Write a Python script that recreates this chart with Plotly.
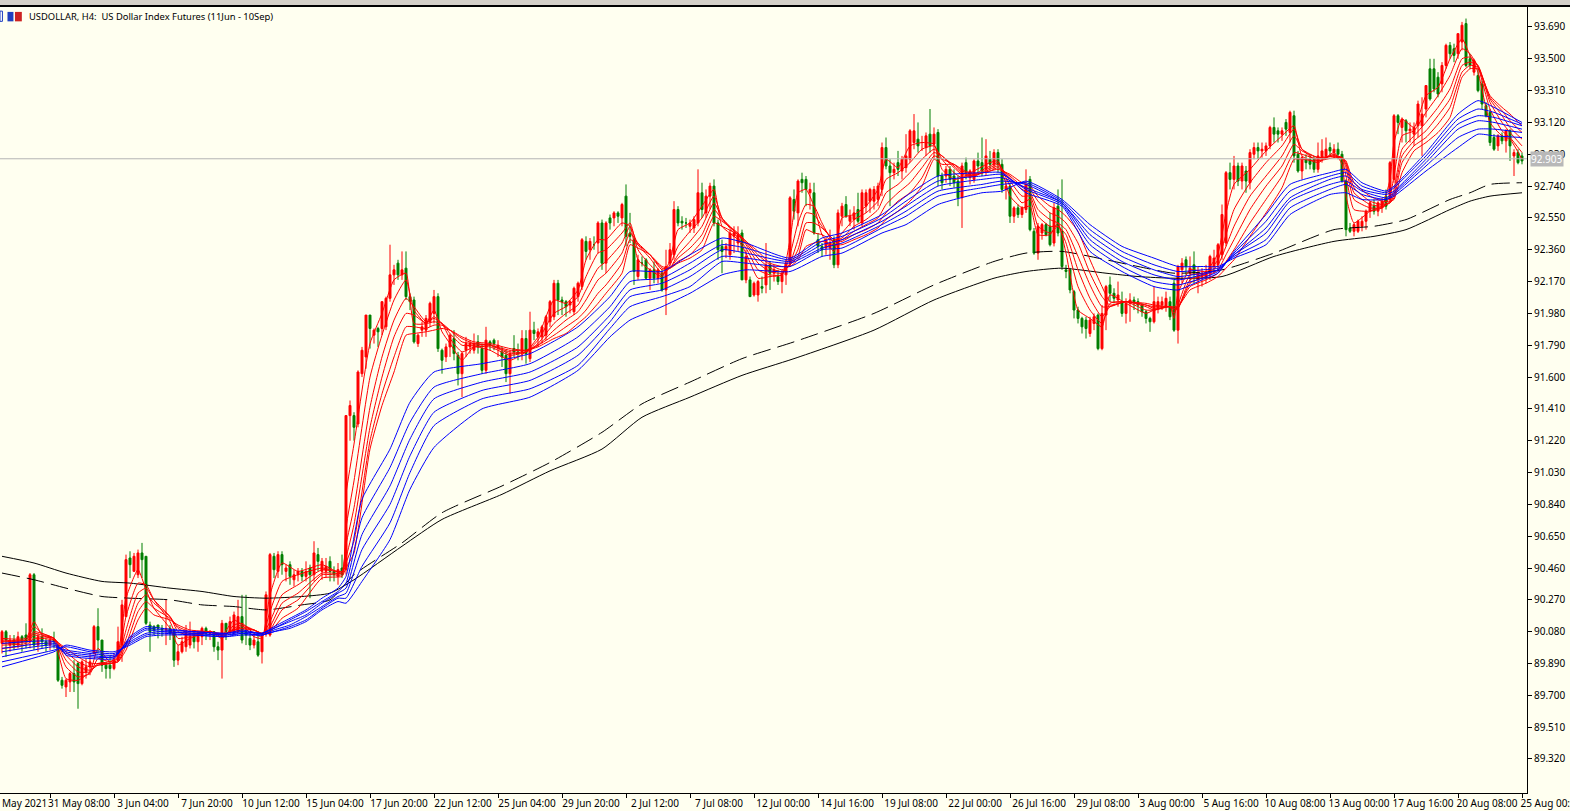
import plotly.graph_objects as go

title_text = "USDOLLAR, H4:  US Dollar Index Futures (11Jun - 10Sep)"
price_ticks = [93.69,93.50,93.31,93.12,92.93,92.74,92.55,92.36,92.17,91.98,91.79,91.60,91.41,91.22,91.03,90.84,90.65,90.46,90.27,90.08,89.89,89.70,89.51,89.32]
date_labels = ["31 May 08:00","3 Jun 04:00","7 Jun 20:00","10 Jun 12:00","15 Jun 04:00","17 Jun 20:00","22 Jun 12:00","25 Jun 04:00","29 Jun 20:00","2 Jul 12:00","7 Jul 08:00","12 Jul 00:00","14 Jul 16:00","19 Jul 08:00","22 Jul 00:00","26 Jul 16:00","29 Jul 08:00","3 Aug 00:00","5 Aug 16:00","10 Aug 08:00","13 Aug 00:00","17 Aug 16:00","20 Aug 08:00","25 Aug 00:00"]
date_bars = [12,28,44,60,76,92,108,124,140,156,172,188,204,220,236,252,268,284,300,316,332,348,364,380]
last_price = 92.903

opens = [90.01,90.08,90.00,90.03,90.00,90.05,90.06,90.02,90.42,90.00,
90.05,90.02,90.00,90.03,90.00,89.79,89.75,89.78,89.83,89.89,
89.77,89.84,89.87,89.95,90.11,90.03,89.88,89.88,89.86,89.91,
90.00,90.17,90.52,90.44,90.42,90.55,90.53,90.12,90.11,90.12,
90.10,90.09,90.10,90.09,89.91,89.96,89.99,90.00,90.05,90.02,
90.05,90.10,90.07,90.08,89.99,89.97,90.13,90.08,90.08,90.08,
90.17,90.08,90.04,90.00,90.02,89.96,90.07,90.06,90.53,90.44,
90.54,90.44,90.48,90.39,90.42,90.44,90.41,90.46,90.42,90.54,
90.44,90.44,90.50,90.44,90.41,90.46,90.45,91.37,91.37,91.32,
91.62,91.72,91.97,91.85,91.89,91.89,91.90,92.07,92.21,92.28,
92.21,92.25,92.08,92.06,91.80,91.88,91.88,91.93,91.98,92.08,
91.76,91.72,91.78,91.83,91.73,91.62,91.76,91.78,91.76,91.81,
91.77,91.64,91.81,91.82,91.78,91.75,91.73,91.62,91.77,91.75,
91.75,91.83,91.71,91.88,91.84,91.84,91.85,91.93,91.96,92.16,
92.06,92.05,92.03,91.99,92.08,92.14,92.41,92.36,92.39,92.40,
92.52,92.28,92.55,92.55,92.58,92.55,92.68,92.46,92.42,92.20,
92.28,92.30,92.19,92.24,92.19,92.22,92.12,92.28,92.33,92.60,
92.53,92.52,92.50,92.49,92.52,92.70,92.58,92.68,92.74,92.52,
92.38,92.36,92.33,92.44,92.40,92.46,92.18,92.18,92.09,92.09,
92.14,92.15,92.27,92.22,92.20,92.17,92.21,92.28,92.66,92.58,
92.78,92.78,92.70,92.70,92.42,92.38,92.37,92.37,92.42,92.27,
92.56,92.63,92.53,92.54,92.60,92.52,92.62,92.65,92.65,92.66,
92.72,92.97,92.86,92.82,92.88,92.83,92.85,92.90,93.00,93.02,
93.00,92.97,93.05,92.99,93.06,92.80,92.80,92.84,92.80,92.77,
92.67,92.88,92.79,92.78,92.89,92.88,92.84,92.90,92.87,92.94,
92.87,92.72,92.74,92.56,92.61,92.57,92.60,92.78,92.47,92.34,
92.46,92.51,92.50,92.40,92.62,92.47,92.24,92.24,92.11,92.00,
91.95,91.94,91.86,91.92,91.97,91.77,91.97,92.15,92.10,92.06,
92.05,91.98,92.04,92.06,92.05,92.03,91.99,91.95,91.93,92.01,
92.03,92.02,92.05,92.16,91.88,92.24,92.30,92.22,92.27,92.18,
92.20,92.20,92.22,92.26,92.27,92.33,92.40,92.82,92.78,92.86,
92.77,92.83,92.76,92.93,92.97,92.95,92.95,92.98,93.09,93.07,
93.05,93.12,93.06,93.16,92.93,92.83,92.90,92.90,92.90,92.84,
92.91,92.92,92.97,92.94,92.96,92.93,92.77,92.49,92.47,92.47,
92.50,92.53,92.59,92.62,92.59,92.61,92.68,92.66,92.78,93.16,
93.09,93.13,93.07,93.05,93.10,93.10,93.20,93.44,93.44,93.39,
93.35,93.46,93.58,93.56,93.53,93.60,93.71,93.50,93.42,93.40,
93.35,93.22,93.18,93.03,92.98,93.04,93.01,93.07,92.92,92.94,92.92]

highs = [90.09,90.09,90.06,90.06,90.08,90.06,90.13,90.43,90.43,90.07,
90.10,90.04,90.05,90.08,90.00,89.81,89.80,89.84,89.91,89.90,
89.91,89.92,89.95,90.12,90.22,90.03,89.90,89.94,89.95,90.11,
90.27,90.54,90.56,90.55,90.57,90.61,90.53,90.14,90.12,90.12,
90.12,90.27,90.12,90.10,90.00,90.05,90.12,90.14,90.09,90.08,
90.11,90.11,90.09,90.08,90.02,90.15,90.13,90.17,90.20,90.27,
90.30,90.30,90.08,90.06,90.08,90.07,90.32,90.55,90.55,90.56,
90.56,90.48,90.50,90.45,90.46,90.46,90.50,90.48,90.62,90.58,
90.52,90.52,90.53,90.47,90.49,90.54,91.37,91.46,91.39,91.64,
91.78,91.97,91.97,91.89,91.90,92.05,92.08,92.39,92.27,92.30,
92.35,92.35,92.10,92.08,91.86,91.93,91.97,92.05,92.12,92.10,
91.77,91.80,91.86,91.88,91.75,91.75,91.84,91.82,91.86,91.85,
91.80,91.90,91.82,91.83,91.82,91.78,91.76,91.76,91.85,91.80,
91.88,91.88,91.99,91.93,91.89,91.91,91.97,92.06,92.18,92.18,
92.08,92.06,92.06,92.14,92.17,92.43,92.44,92.43,92.44,92.53,
92.54,92.53,92.57,92.59,92.59,92.64,92.75,92.58,92.44,92.33,
92.32,92.31,92.25,92.29,92.25,92.24,92.36,92.40,92.65,92.62,
92.56,92.55,92.54,92.56,92.84,92.76,92.72,92.76,92.78,92.54,
92.42,92.40,92.48,92.50,92.50,92.48,92.36,92.20,92.17,92.18,
92.20,92.40,92.29,92.27,92.24,92.24,92.30,92.68,92.72,92.78,
92.82,92.80,92.76,92.76,92.46,92.40,92.43,92.48,92.44,92.60,
92.64,92.68,92.60,92.62,92.70,92.72,92.72,92.73,92.74,92.76,
93.00,93.03,92.90,92.88,92.95,92.92,93.05,93.08,93.17,93.12,
93.04,93.06,93.20,93.09,93.08,92.82,92.86,92.86,92.84,92.80,
92.88,92.91,92.84,92.90,92.94,93.03,93.02,92.95,92.96,92.96,
92.90,92.78,92.76,92.62,92.63,92.62,92.84,92.80,92.49,92.52,
92.52,92.52,92.58,92.64,92.72,92.78,92.27,92.25,92.12,92.02,
91.96,91.96,91.96,91.98,91.98,92.03,92.15,92.20,92.13,92.17,
92.11,92.07,92.10,92.08,92.07,92.04,92.00,91.96,92.14,92.08,
92.08,92.11,92.08,92.18,92.27,92.31,92.32,92.32,92.35,92.26,
92.25,92.27,92.33,92.36,92.40,92.63,92.83,92.88,92.92,92.88,
92.88,92.86,92.96,93.00,93.00,93.00,93.00,93.10,93.15,93.09,
93.09,93.14,93.19,93.19,92.95,92.92,92.93,92.93,92.92,93.00,
93.02,93.03,93.00,92.99,93.00,92.95,92.78,92.52,92.52,92.54,
92.56,92.60,92.65,92.66,92.65,92.67,92.72,92.89,93.17,93.17,
93.15,93.14,93.12,93.12,93.25,93.27,93.34,93.50,93.50,93.42,
93.48,93.59,93.60,93.59,93.65,93.72,93.74,93.53,93.50,93.44,
93.37,93.24,93.20,93.05,93.05,93.06,93.08,93.08,92.96,92.96,92.94]

lows = [89.95,89.93,89.96,89.97,89.98,89.96,89.98,89.98,89.97,89.96,
89.98,89.96,89.97,89.98,89.78,89.74,89.69,89.72,89.72,89.62,
89.76,89.80,89.82,89.95,89.95,89.84,89.80,89.80,89.85,89.90,
89.90,90.17,90.40,90.44,90.40,90.40,90.12,89.96,90.06,90.04,
90.05,90.00,90.03,89.87,89.88,89.95,89.96,89.98,89.98,89.96,
90.00,90.03,90.03,89.96,89.91,89.80,90.03,90.06,90.06,90.08,
90.01,90.00,89.97,89.98,89.93,89.89,90.05,90.05,90.40,90.40,
90.42,90.38,90.36,90.35,90.38,90.38,90.38,90.28,90.38,90.44,
90.39,90.40,90.38,90.38,90.36,90.40,90.42,91.22,91.22,91.30,
91.60,91.65,91.77,91.80,91.78,91.85,91.88,92.05,92.15,92.18,
92.18,92.06,92.00,91.80,91.78,91.84,91.84,91.90,91.92,91.75,
91.62,91.69,91.72,91.70,91.55,91.48,91.72,91.74,91.74,91.74,
91.62,91.62,91.76,91.76,91.72,91.66,91.57,91.50,91.72,91.70,
91.70,91.68,91.69,91.82,91.78,91.80,91.82,91.90,91.94,91.97,
91.97,91.96,91.98,91.97,92.05,92.12,92.30,92.30,92.36,92.34,
92.24,92.22,92.48,92.50,92.52,92.50,92.38,92.40,92.15,92.18,
92.26,92.18,92.12,92.16,92.16,92.11,91.97,92.26,92.30,92.50,
92.48,92.49,92.46,92.46,92.50,92.55,92.55,92.60,92.50,92.30,
92.22,92.31,92.30,92.34,92.35,92.18,92.16,92.08,92.08,92.05,
92.10,92.10,92.12,92.17,92.15,92.10,92.15,92.26,92.54,92.50,
92.70,92.62,92.60,92.45,92.34,92.32,92.33,92.30,92.25,92.25,
92.50,92.55,92.50,92.48,92.52,92.50,92.58,92.58,92.60,92.62,
92.68,92.84,92.62,92.78,92.80,92.78,92.82,92.88,92.96,92.94,
92.95,92.92,92.94,92.90,92.74,92.72,92.76,92.74,92.73,92.62,
92.49,92.78,92.75,92.76,92.82,92.80,92.80,92.84,92.84,92.82,
92.70,92.66,92.52,92.52,92.55,92.55,92.58,92.47,92.33,92.30,
92.42,92.44,92.38,92.38,92.44,92.24,92.19,92.10,91.95,91.92,
91.86,91.83,91.84,91.88,91.76,91.76,91.88,92.05,92.04,92.02,
91.96,91.92,91.93,92.00,91.98,91.96,91.92,91.87,91.92,91.98,
92.00,91.99,91.94,91.87,91.80,92.16,92.21,92.16,92.16,92.10,
92.14,92.16,92.18,92.22,92.24,92.30,92.38,92.72,92.72,92.74,
92.72,92.70,92.72,92.90,92.90,92.91,92.92,92.96,93.00,93.00,
93.01,93.04,93.00,92.88,92.82,92.78,92.84,92.84,92.82,92.82,
92.88,92.90,92.92,92.91,92.90,92.76,92.44,92.46,92.44,92.46,
92.47,92.48,92.55,92.57,92.56,92.58,92.60,92.64,92.76,93.05,
93.00,93.00,93.00,92.98,93.03,92.92,93.15,93.25,93.30,93.27,
93.30,93.44,93.50,93.48,93.50,93.55,93.45,93.44,93.40,93.30,
93.20,93.15,92.98,92.95,92.95,92.99,92.94,92.89,92.80,92.87,92.87]

closes = [90.08,90.03,90.03,90.00,90.05,90.02,90.02,90.42,90.00,90.05,
90.02,90.00,90.03,90.02,89.79,89.76,89.79,89.83,89.78,89.77,
89.90,89.87,89.90,90.11,90.03,89.88,89.86,89.86,89.91,90.02,
90.24,90.51,90.48,90.53,90.55,90.51,90.13,90.08,90.09,90.10,
90.09,90.10,90.07,89.91,89.96,90.02,90.07,90.05,90.02,90.07,
90.10,90.07,90.08,89.99,89.97,90.13,90.08,90.14,90.18,90.17,
90.03,90.06,90.00,90.03,89.94,90.05,90.30,90.54,90.45,90.54,
90.48,90.46,90.41,90.42,90.44,90.41,90.44,90.42,90.55,90.50,
90.50,90.47,90.44,90.42,90.45,90.42,91.37,91.43,91.30,91.63,
91.76,91.97,91.89,91.88,91.87,92.05,92.07,92.21,92.24,92.21,
92.24,92.08,92.05,91.81,91.85,91.90,91.95,92.04,92.08,91.77,
91.70,91.78,91.85,91.74,91.62,91.74,91.80,91.80,91.80,91.78,
91.64,91.82,91.79,91.80,91.79,91.72,91.62,91.74,91.75,91.74,
91.83,91.74,91.88,91.86,91.87,91.90,91.96,92.05,92.16,92.06,
92.05,92.02,92.05,92.13,92.16,92.42,92.35,92.41,92.39,92.52,
92.28,92.52,92.52,92.58,92.56,92.63,92.44,92.44,92.23,92.30,
92.28,92.19,92.24,92.19,92.24,92.12,92.26,92.36,92.60,92.52,
92.52,92.52,92.52,92.54,92.70,92.60,92.68,92.74,92.52,92.36,
92.35,92.38,92.46,92.46,92.45,92.18,92.32,92.08,92.16,92.17,
92.13,92.27,92.22,92.24,92.17,92.22,92.28,92.67,92.59,92.77,
92.76,92.72,92.72,92.46,92.38,92.36,92.42,92.40,92.27,92.58,
92.62,92.56,92.56,92.58,92.53,92.70,92.70,92.72,92.72,92.74,
92.97,92.86,92.82,92.84,92.84,92.90,92.92,93.07,93.07,92.98,
93.00,93.04,92.98,93.05,92.80,92.76,92.84,92.78,92.76,92.67,
92.86,92.82,92.83,92.89,92.86,92.83,92.92,92.87,92.94,92.87,
92.72,92.74,92.56,92.61,92.57,92.61,92.75,92.48,92.34,92.50,
92.51,92.45,92.39,92.61,92.46,92.26,92.23,92.12,92.00,91.95,
91.90,91.89,91.94,91.96,91.77,91.98,92.14,92.10,92.07,92.09,
91.98,92.04,92.06,92.05,92.03,91.99,91.95,91.93,92.05,92.05,
92.05,92.07,91.96,91.88,92.26,92.28,92.26,92.25,92.22,92.22,
92.22,92.23,92.32,92.31,92.39,92.57,92.82,92.78,92.86,92.77,
92.86,92.77,92.94,92.97,92.95,92.96,92.98,93.09,93.05,93.05,
93.07,93.08,93.18,92.92,92.83,92.91,92.88,92.87,92.84,92.92,
92.95,92.96,92.95,92.96,92.93,92.77,92.48,92.47,92.51,92.53,
92.53,92.59,92.64,92.59,92.64,92.65,92.62,92.88,93.16,93.12,
93.14,93.07,93.08,93.09,93.23,93.17,93.34,93.26,93.32,93.29,
93.46,93.58,93.53,93.52,93.65,93.70,93.46,93.46,93.49,93.31,
93.23,93.16,93.00,92.96,93.04,93.01,93.07,92.98,92.94,92.88,92.89]

red_bars = [0,6,8,10,13,16,19,22,24,27,29,31,34,36,38,42,44,47,52,55,58,60,63,65,67,70,74,80,85,86,88,92,95,98,101,103,106,108,110,112,115,118,122,127,131,134,138,141,144,146,149,151,155,157,159,162,165,167,169,172,175,178,180,184,186,189,192,195,197,199,201,203,205,208,210,213,216,219,221,224,227,230,233,235,238,240,243,247,249,252,255,257,259,262,264,266,269,272,275,277,281,286,288,292,293,294,297,301,304,306,308,312,316,320,323,325,329,333,335,336,338,342,345,347,348,350,353,356,359,362,365,367,369,372,375,377,380]
red1 = [90.04,90.04,90.14,90.06,90.03,89.80,89.79,89.84,89.98,89.90,89.95,90.28,90.45,90.33,90.22,90.10,90.00,90.04,90.08,90.06,90.15,90.12,90.05,90.04,90.30,90.49,90.44,90.48,90.43,90.90,91.20,91.80,91.98,92.18,92.22,91.92,91.92,92.00,91.87,91.80,91.70,91.78,91.76,91.70,91.75,91.84,92.06,92.04,92.12,92.30,92.42,92.42,92.52,92.50,92.30,92.24,92.20,92.30,92.48,92.52,92.62,92.72,92.50,92.42,92.34,92.19,92.20,92.21,92.42,92.70,92.72,92.62,92.45,92.35,92.55,92.57,92.62,92.72,92.90,92.85,92.98,93.00,92.99,92.84,92.78,92.79,92.83,92.88,92.89,92.68,92.61,92.62,92.45,92.45,92.52,92.34,92.00,91.95,91.90,92.09,92.04,91.98,92.00,92.02,91.95,92.10,92.24,92.23,92.34,92.58,92.75,92.84,92.95,93.04,93.10,92.92,92.88,92.94,92.87,92.68,92.52,92.59,92.62,92.78,93.00,93.14,93.09,93.28,93.33,93.50,93.62,93.52,93.42,93.12,93.04,93.02,92.90]
red2 = [90.03,90.03,90.11,90.07,90.04,89.87,89.81,89.83,89.92,89.90,89.93,90.17,90.37,90.36,90.27,90.14,90.04,90.05,90.08,90.04,90.12,90.13,90.07,90.05,90.20,90.38,90.42,90.46,90.44,90.70,90.98,91.60,91.85,92.06,92.18,92.00,91.92,91.96,91.92,91.83,91.75,91.78,91.78,91.73,91.75,91.82,91.98,92.02,92.08,92.20,92.34,92.36,92.46,92.52,92.36,92.27,92.21,92.27,92.38,92.47,92.55,92.68,92.55,92.43,92.37,92.24,92.21,92.21,92.33,92.52,92.63,92.62,92.52,92.40,92.46,92.54,92.58,92.65,92.78,92.82,92.88,92.96,92.98,92.90,92.82,92.79,92.81,92.86,92.88,92.74,92.64,92.66,92.50,92.46,92.50,92.40,92.14,92.00,91.92,92.04,92.05,92.00,92.00,92.02,91.98,92.03,92.21,92.22,92.30,92.45,92.60,92.76,92.88,92.98,93.08,92.96,92.89,92.93,92.90,92.80,92.60,92.59,92.61,92.68,92.80,93.04,93.07,93.18,93.28,93.40,93.56,93.53,93.45,93.20,93.07,93.03,92.94]
red3 = [90.02,90.03,90.08,90.07,90.04,89.91,89.84,89.84,89.89,89.90,89.92,90.09,90.31,90.34,90.27,90.17,90.08,90.06,90.08,90.05,90.10,90.12,90.09,90.06,90.14,90.30,90.36,90.45,90.44,90.60,90.82,91.42,91.72,91.94,92.07,92.02,91.93,91.95,91.92,91.86,91.79,91.79,91.79,91.74,91.75,91.80,91.92,91.98,92.03,92.12,92.25,92.29,92.40,92.50,92.39,92.31,92.22,92.25,92.33,92.41,92.50,92.64,92.55,92.45,92.39,92.28,92.23,92.22,92.28,92.42,92.58,92.57,92.50,92.42,92.43,92.50,92.54,92.60,92.70,92.75,92.82,92.90,92.96,92.92,92.85,92.81,92.80,92.85,92.87,92.77,92.68,92.68,92.56,92.50,92.50,92.45,92.24,92.07,91.96,92.02,92.05,92.02,92.00,92.02,92.00,92.01,92.18,92.21,92.27,92.38,92.50,92.68,92.80,92.92,93.04,92.96,92.91,92.92,92.91,92.85,92.66,92.61,92.61,92.65,92.72,92.96,93.04,93.12,93.21,93.32,93.50,93.51,93.46,93.24,93.12,93.06,92.98]
red4 = [90.01,90.02,90.07,90.06,90.04,89.94,89.87,89.85,89.88,89.89,89.91,90.04,90.25,90.30,90.25,90.17,90.10,90.07,90.08,90.06,90.09,90.11,90.09,90.07,90.11,90.25,90.31,90.43,90.43,90.52,90.72,91.30,91.60,91.84,91.98,91.97,91.92,91.93,91.92,91.88,91.81,91.80,91.79,91.75,91.75,91.79,91.88,91.94,91.99,92.06,92.18,92.22,92.34,92.46,92.40,92.33,92.24,92.25,92.31,92.37,92.45,92.60,92.54,92.45,92.40,92.31,92.25,92.23,92.27,92.36,92.52,92.52,92.49,92.42,92.42,92.47,92.51,92.55,92.63,92.70,92.76,92.85,92.94,92.92,92.86,92.82,92.80,92.84,92.86,92.79,92.72,92.70,92.60,92.54,92.52,92.48,92.32,92.15,92.02,92.02,92.05,92.03,92.01,92.02,92.01,92.01,92.16,92.20,92.24,92.33,92.42,92.60,92.74,92.86,92.99,92.95,92.91,92.92,92.91,92.87,92.70,92.63,92.62,92.64,92.69,92.92,93.01,93.07,93.16,93.26,93.46,93.48,93.46,93.26,93.16,93.09,93.02]
red5 = [90.00,90.01,90.06,90.05,90.04,89.96,89.90,89.87,89.88,89.89,89.90,90.00,90.20,90.26,90.22,90.16,90.11,90.08,90.08,90.06,90.09,90.10,90.09,90.07,90.09,90.21,90.27,90.42,90.42,90.49,90.62,91.22,91.50,91.72,91.90,91.90,91.89,91.91,91.91,91.88,91.83,91.80,91.79,91.76,91.76,91.79,91.85,91.90,91.95,92.00,92.10,92.15,92.28,92.42,92.39,92.33,92.25,92.25,92.29,92.33,92.41,92.56,92.53,92.46,92.41,92.33,92.27,92.24,92.27,92.32,92.48,92.46,92.45,92.41,92.41,92.45,92.48,92.52,92.58,92.65,92.70,92.79,92.92,92.90,92.87,92.83,92.81,92.83,92.85,92.80,92.74,92.72,92.65,92.58,92.56,92.52,92.40,92.22,92.08,92.03,92.05,92.03,92.02,92.02,92.01,92.02,92.14,92.18,92.22,92.29,92.36,92.52,92.66,92.80,92.94,92.93,92.90,92.92,92.91,92.88,92.73,92.65,92.63,92.64,92.67,92.88,92.98,93.03,93.11,93.21,93.42,93.46,93.45,93.27,93.19,93.13,93.06]
red6 = [89.98,90.00,90.04,90.04,90.03,89.98,89.93,89.89,89.89,89.89,89.90,89.97,90.15,90.22,90.18,90.15,90.12,90.09,90.08,90.07,90.08,90.09,90.09,90.07,90.08,90.16,90.22,90.40,90.41,90.46,90.55,91.17,91.43,91.63,91.85,91.86,91.87,91.88,91.89,91.88,91.84,91.81,91.80,91.77,91.76,91.78,91.83,91.86,91.92,91.96,92.04,92.10,92.22,92.39,92.37,92.33,92.26,92.25,92.28,92.31,92.36,92.52,92.50,92.45,92.41,92.35,92.28,92.26,92.26,92.30,92.38,92.40,92.41,92.39,92.39,92.42,92.45,92.49,92.54,92.59,92.65,92.74,92.90,92.87,92.87,92.84,92.81,92.83,92.84,92.81,92.76,92.74,92.68,92.62,92.60,92.56,92.47,92.30,92.14,92.05,92.05,92.04,92.03,92.02,92.02,92.02,92.12,92.16,92.20,92.25,92.30,92.44,92.58,92.73,92.90,92.90,92.89,92.91,92.91,92.89,92.76,92.68,92.65,92.65,92.66,92.82,92.95,93.00,93.06,93.15,93.39,93.44,93.44,93.28,93.21,93.17,93.10]

blue_bars = [0,13,16,22,28,32,36,40,48,56,60,65,68,72,76,80,84,86,90,97,102,108,120,132,144,152,157,165,172,180,186,197,205,210,220,226,234,245,250,256,265,272,280,288,294,300,304,308,316,322,332,336,340,346,348,356,364,369,373,380]
blue1 = [90.01,90.02,89.94,89.92,89.92,90.05,90.11,90.10,90.08,90.07,90.09,90.07,90.11,90.16,90.21,90.28,90.34,90.41,90.87,91.17,91.45,91.63,91.68,91.74,91.90,92.08,92.23,92.23,92.33,92.43,92.40,92.31,92.43,92.46,92.57,92.68,92.80,92.82,92.82,92.70,92.62,92.35,92.23,92.14,92.12,92.18,92.22,92.35,92.57,92.75,92.82,92.84,92.76,92.71,92.74,92.94,93.17,93.25,93.21,93.12]
blue2 = [89.98,90.01,89.95,89.93,89.93,90.04,90.10,90.09,90.08,90.07,90.08,90.07,90.10,90.15,90.20,90.26,90.32,90.37,90.76,91.06,91.33,91.54,91.62,91.68,91.84,92.02,92.17,92.19,92.28,92.39,92.37,92.30,92.41,92.44,92.55,92.65,92.77,92.80,92.81,92.72,92.63,92.39,92.26,92.17,92.15,92.19,92.23,92.34,92.53,92.71,92.80,92.82,92.74,92.70,92.73,92.92,93.14,93.20,93.18,93.11]
blue3 = [89.96,90.00,89.96,89.94,89.93,90.03,90.09,90.08,90.07,90.06,90.08,90.07,90.10,90.14,90.18,90.25,90.31,90.34,90.66,90.95,91.23,91.47,91.57,91.63,91.78,91.97,92.12,92.16,92.24,92.36,92.34,92.29,92.39,92.42,92.53,92.62,92.74,92.78,92.79,92.73,92.64,92.42,92.29,92.21,92.18,92.21,92.24,92.33,92.49,92.67,92.78,92.80,92.72,92.69,92.71,92.90,93.11,93.16,93.15,93.10]
blue4 = [89.93,89.99,89.97,89.95,89.94,90.02,90.07,90.08,90.07,90.06,90.07,90.06,90.09,90.12,90.17,90.23,90.29,90.31,90.57,90.84,91.13,91.39,91.52,91.58,91.73,91.93,92.08,92.12,92.20,92.32,92.31,92.28,92.37,92.40,92.51,92.59,92.71,92.75,92.77,92.75,92.64,92.45,92.32,92.24,92.20,92.22,92.24,92.33,92.46,92.65,92.75,92.77,92.71,92.67,92.70,92.88,93.08,93.13,93.12,93.08]
blue5 = [89.90,89.97,89.99,89.96,89.95,90.01,90.06,90.07,90.06,90.05,90.07,90.06,90.08,90.11,90.15,90.22,90.28,90.28,90.47,90.73,91.03,91.31,91.47,91.53,91.67,91.89,92.02,92.08,92.14,92.29,92.28,92.26,92.36,92.37,92.49,92.56,92.68,92.73,92.75,92.76,92.65,92.48,92.35,92.27,92.23,92.24,92.25,92.32,92.42,92.61,92.72,92.75,92.69,92.66,92.69,92.86,93.03,93.08,93.08,93.06]
blue6 = [89.87,89.96,90.00,89.97,89.96,90.00,90.05,90.06,90.06,90.05,90.06,90.06,90.08,90.10,90.14,90.21,90.26,90.25,90.38,90.63,90.93,91.18,91.41,91.48,91.64,91.84,91.94,92.02,92.10,92.21,92.24,92.23,92.32,92.34,92.46,92.51,92.63,92.70,92.71,92.77,92.66,92.51,92.38,92.31,92.26,92.26,92.26,92.31,92.39,92.57,92.69,92.70,92.66,92.66,92.68,92.83,92.97,93.05,93.04,93.03]

black_bars = [0,8,16,25,32,42,50,58,66,75,82,88,100,110,125,137,150,160,172,185,198,218,233,248,256,265,276,284,293,305,318,333,343,351,362,367,372,380]
black_solid = [90.53,90.49,90.43,90.38,90.37,90.34,90.32,90.29,90.28,90.29,90.31,90.39,90.59,90.75,90.90,91.04,91.17,91.36,91.48,91.61,91.71,91.88,92.06,92.19,92.23,92.25,92.22,92.20,92.19,92.20,92.32,92.41,92.44,92.48,92.60,92.65,92.68,92.70]
black_dash = [90.43,90.39,90.34,90.29,90.28,90.27,90.24,90.23,90.21,90.24,90.27,90.42,90.61,90.79,90.95,91.09,91.27,91.44,91.57,91.71,91.81,91.98,92.15,92.29,92.34,92.35,92.30,92.26,92.22,92.24,92.34,92.48,92.50,92.54,92.66,92.70,92.75,92.76]

for series in (highs, lows, closes):
    assert len(series) == len(opens)
for series in (red1, red2, red3, red4, red5, red6):
    assert len(series) == len(red_bars)
for series in (blue1, blue2, blue3, blue4, blue5, blue6):
    assert len(series) == len(blue_bars)
assert len(black_solid) == len(black_bars) == len(black_dash)

IVORY = "#FFFFF0"
FONT = "Noto Sans"
fig = go.Figure()
fig.add_trace(go.Candlestick(
    x=list(range(len(opens))), open=opens, high=highs, low=lows, close=closes,
    increasing=dict(line=dict(color="#FF0000", width=1), fillcolor="#FF0000"),
    decreasing=dict(line=dict(color="#007F00", width=1), fillcolor="#007F00"),
    whiskerwidth=0, hoverinfo="skip", showlegend=False))
fig.add_trace(go.Scatter(x=black_bars, y=black_solid, mode="lines", line=dict(color="#000000", width=1, shape="spline", smoothing=0.6), showlegend=False, hoverinfo="skip"))
fig.add_trace(go.Scatter(x=black_bars, y=black_dash, mode="lines", line=dict(color="#000000", width=1, dash="18px,7px", shape="spline", smoothing=0.6), showlegend=False, hoverinfo="skip"))
for s in (red1, red2, red3, red4, red5, red6):
    fig.add_trace(go.Scatter(x=red_bars, y=s, mode="lines", line=dict(color="#FF0000", width=1, shape="spline", smoothing=0.5), showlegend=False, hoverinfo="skip"))
for s in (blue1, blue2, blue3, blue4, blue5, blue6):
    fig.add_trace(go.Scatter(x=blue_bars, y=s, mode="lines", line=dict(color="#0000FF", width=1, shape="spline", smoothing=0.5), showlegend=False, hoverinfo="skip"))

fig.update_layout(
    width=1570, height=811, autosize=False,
    margin=dict(l=0, r=43, t=6, b=18, pad=0),
    paper_bgcolor=IVORY, plot_bgcolor=IVORY,
    showlegend=False,
    font=dict(family=FONT, size=10, color="#000000"),
    xaxis=dict(range=[-0.5, 381.25], rangeslider=dict(visible=False), showgrid=False, zeroline=False, automargin=False,
               tickmode="array", tickvals=date_bars, ticktext=date_labels,
               ticks="outside", ticklen=4, tickcolor="#000000", showline=True, linecolor="#000000", linewidth=1,
               ticklabelshift=29, ticklabelstandoff=-3, ticklabeloverflow="allow", tickangle=0,
               tickfont=dict(family=FONT, size=10)),
    yaxis=dict(range=[89.117, 93.815], side="right", showgrid=False, zeroline=False, automargin=False,
               tickmode="array", tickvals=price_ticks, ticktext=[f"{v:.3f}" for v in price_ticks],
               ticks="outside", ticklen=4, tickcolor="#000000", showline=True, linecolor="#000000", linewidth=1,
               tickfont=dict(family=FONT, size=10)),
    shapes=[
        dict(type="line", xref="paper", x0=0, x1=1, yref="y", y0=last_price, y1=last_price, line=dict(color="#B4B4B4", width=1)),
        dict(type="rect", xref="paper", x0=0, x1=1.03, yref="paper", y0=1.0, y1=1.0077, fillcolor="#D4D0C8", line=dict(width=0)),
        dict(type="line", xref="paper", x0=0, x1=1.03, yref="paper", y0=1.0, y1=1.0, line=dict(color="#000000", width=2)),
        dict(type="rect", xref="paper", x0=0.0, x1=0.0016, yref="paper", y0=0.9805, y1=0.9935, fillcolor="#FFFFFF", line=dict(color="#1F3FBF", width=1)),
        dict(type="rect", xref="paper", x0=0.0049, x1=0.0088, yref="paper", y0=0.9805, y1=0.9925, fillcolor="#1F3FBF", line=dict(width=0)),
        dict(type="rect", xref="paper", x0=0.0098, x1=0.0143, yref="paper", y0=0.9805, y1=0.9925, fillcolor="#CC2222", line=dict(width=0)),
    ],
    annotations=[
        dict(text=title_text, xref="paper", yref="paper", x=27/1527, y=1-10/787, xanchor="left", yanchor="middle",
             showarrow=False, font=dict(family=FONT, size=9.4, color="#000000")),
        dict(text=f"{last_price:.3f}", xref="paper", yref="y", x=1.0, y=last_price, xanchor="left", yanchor="middle", xshift=3,
             showarrow=False, bgcolor="#B8B8B8", font=dict(family=FONT, size=10, color="#FFFFFF"), borderpad=0),
        dict(text="May 2021", xref="paper", yref="paper", x=0, y=0, xanchor="left", yanchor="top", yshift=-1,
             showarrow=False, font=dict(family=FONT, size=10, color="#000000")),
    ],
)
fig.write_html("out.html", config={"displayModeBar": False},
               post_script="document.body.style.margin='0';document.body.style.overflow='hidden';document.body.style.background='#FFFFF0';")
